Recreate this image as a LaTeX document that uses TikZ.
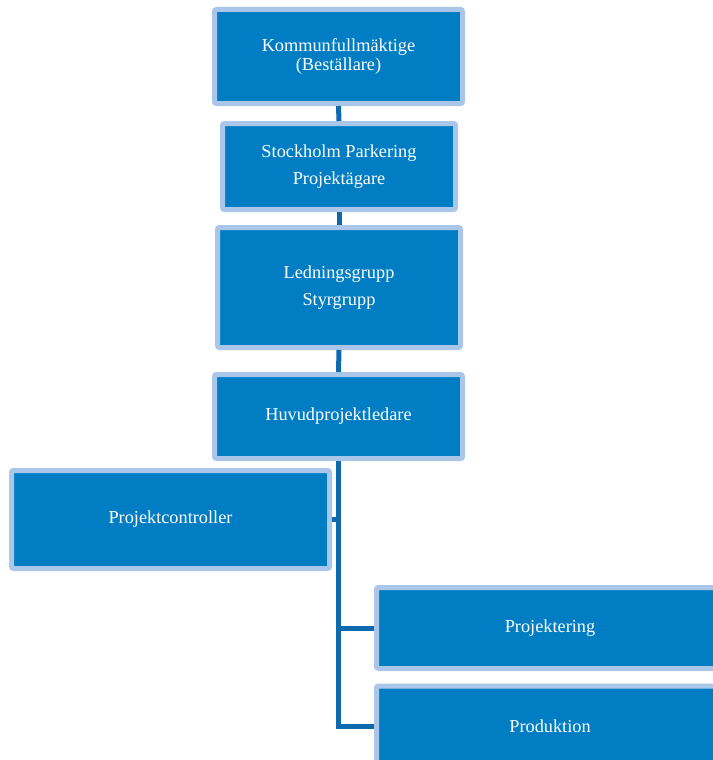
\documentclass[tikz,border=0pt]{standalone}
\usepackage{fontspec}
\setmainfont{Liberation Serif}
\definecolor{boxfill}{RGB}{0,125,195}
\definecolor{boxedge}{RGB}{170,199,234}
\definecolor{linkcol}{RGB}{14,106,172}
\tikzset{
  orgbox/.style={draw=boxedge, fill=boxfill, line width=5pt, rounded corners=2pt,
    inner sep=0pt, text=white, align=center, font=\fontsize{18.3}{27}\selectfont},
  link/.style={draw=linkcol, line width=5pt}
}
\begin{document}
\begin{tikzpicture}[x=1pt,y=-1pt]
\useasboundingbox (0,0) rectangle (712,760);
\node[orgbox, minimum width=248pt, minimum height=94pt, font=\fontsize{18.3}{18.5}\selectfont] (b1) at (338.5,56.5) {Kommunfullmäktige\\(Beställare)};
\node[orgbox, minimum width=233pt, minimum height=86pt] (b2) at (339,166.5) {Stockholm Parkering\\Projektägare};
\node[orgbox, minimum width=243pt, minimum height=120pt] (b3) at (339,287.5) {Ledningsgrupp\\Styrgrupp};
\node[orgbox, minimum width=248pt, minimum height=84pt] (b4) at (338.5,416.5) {Huvudprojektledare};
\node[orgbox, minimum width=318pt, minimum height=98pt] (b5) at (170.5,519.5) {Projektcontroller};
\node[orgbox, minimum width=347pt, minimum height=81pt] (b6) at (550,628) {Projektering};
\node[orgbox, minimum width=347pt, minimum height=81pt] (b7) at (550,726.5) {Produktion};
\draw[link] (b1.south) -- (b2.north);
\draw[link] (b2.south) -- (b3.north);
\draw[link] (b3.south) -- (b4.north);
\draw[link] (b4.south) |- (b7.west);
\draw[link] (b4.south |- b6.west) -- (b6.west);
\draw[link] (b5.east) -- (b5.east -| b4.south);
\end{tikzpicture}
\end{document}
